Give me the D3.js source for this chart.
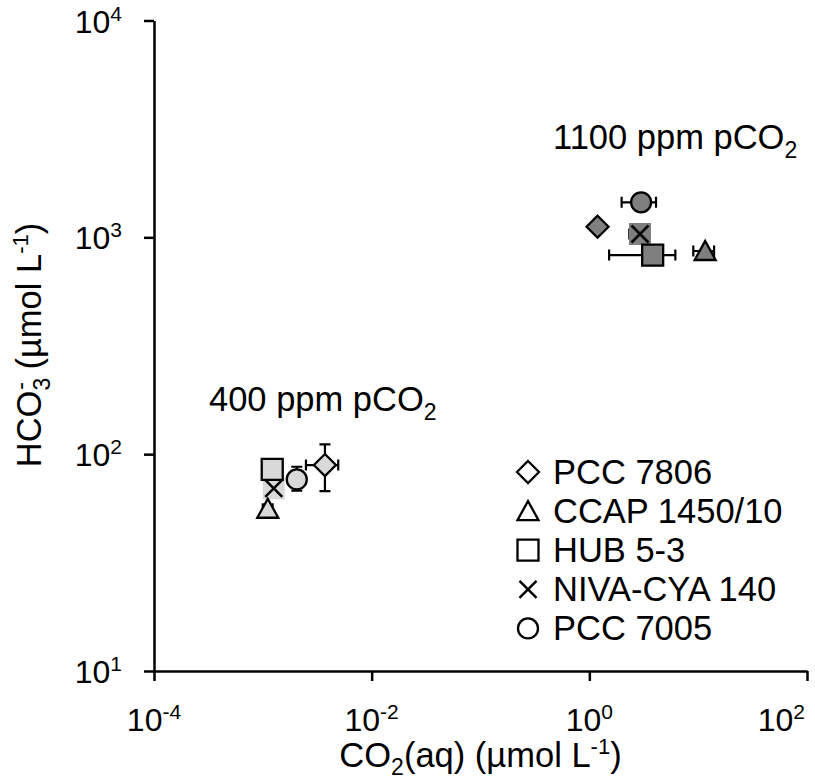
<!DOCTYPE html>
<html>
<head>
<meta charset="utf-8">
<script src="https://cdn.jsdelivr.net/npm/d3@7"></script>
<style>
  body { margin: 0; background: #fff; }
  text { font-family: "Liberation Sans", Arial, sans-serif; fill: #000; }
</style>
</head>
<body>
<div id="chart"></div>
<script>
// strains and marker shapes (legend order)
const strains = ["PCC 7806", "CCAP 1450/10", "HUB 5-3", "NIVA-CYA 140", "PCC 7005"];
const shapes = ["diamond", "triangle", "square", "x", "circle"];

// 400 ppm pCO2
const co2_400 = [3.72e-3, 1.11e-3, 1.22e-3, 1.26e-3, 2.05e-3];
const hco3_400 = [89.1, 56, 85.1, 69.5, 76.5];
const co2Lo_400 = [2.49e-3, 1.0e-3, null, null, null];
const co2Hi_400 = [4.93e-3, 1.23e-3, null, null, null];
const hco3Lo_400 = [67.6, null, null, null, 67.8];
const hco3Hi_400 = [110.9, null, null, null, 87.5];

// 1100 ppm pCO2
const co2_1100 = [1.19, 11.6, 3.82, 2.92, 2.99];
const hco3_1100 = [1119, 865, 828, 1036, 1450];
const co2Lo_1100 = [null, 9.02, 1.52, 2.33, 1.98];
const co2Hi_1100 = [null, 14.0, 6.17, 3.55, 4.10];
const hco3Lo_1100 = [null, null, null, null, null];
const hco3Hi_1100 = [null, null, null, null, null];

const xTickExp = [-4, -2, 0, 2];
const yTickExp = [1, 2, 3, 4];

const width = 815, height = 782;
const margin = { top: 20.5, right: 8, bottom: 111, left: 154 };

const svg = d3.select("#chart").append("svg")
  .attr("width", width)
  .attr("height", height);

const x = d3.scaleLog()
  .domain([1e-4, 1e2])
  .range([margin.left, width - margin.right]);

const y = d3.scaleLog()
  .domain([10, 1e4])
  .range([height - margin.bottom, margin.top]);

// axes
svg.append("g")
  .attr("transform", `translate(0,${height - margin.bottom})`)
  .call(d3.axisBottom(x).tickValues(xTickExp.map(e => Math.pow(10, e))).tickSize(10).tickSizeOuter(0).tickFormat(""));
svg.append("g")
  .attr("transform", `translate(${margin.left},0)`)
  .call(d3.axisLeft(y).tickValues(yTickExp.map(e => Math.pow(10, e))).tickSize(10).tickSizeOuter(0).tickFormat(""));
svg.selectAll(".domain").attr("stroke", "#000").attr("stroke-width", 2.5);
svg.selectAll(".tick line").attr("stroke", "#000").attr("stroke-width", 2.5);

const tickFs = 32, supFs = 21;
xTickExp.forEach((e, i) => {
  const last = i === xTickExp.length - 1;
  const t = svg.append("text")
    .attr("x", last ? width - 10 : x(Math.pow(10, e)))
    .attr("y", height - margin.bottom + 60)
    .attr("text-anchor", last ? "end" : "middle")
    .style("font-size", tickFs + "px");
  t.append("tspan").text("10");
  t.append("tspan").attr("dy", -12).style("font-size", supFs + "px").text(e);
});
yTickExp.forEach(e => {
  const t = svg.append("text")
    .attr("x", 122)
    .attr("y", y(Math.pow(10, e)) + 12)
    .attr("text-anchor", "end")
    .style("font-size", tickFs + "px");
  t.append("tspan").text("10");
  t.append("tspan").attr("dy", -12).style("font-size", supFs + "px").text(e);
});

// axis titles
const titleFs = 34.5;
const xt = svg.append("text")
  .attr("x", (margin.left + width - margin.right) / 2)
  .attr("y", 767)
  .attr("text-anchor", "middle")
  .style("font-size", titleFs + "px");
xt.append("tspan").text("CO");
xt.append("tspan").attr("dy", 8).style("font-size", "23px").text("2");
xt.append("tspan").attr("dy", -8).text("(aq) (µmol L");
xt.append("tspan").attr("dy", -13).style("font-size", "22px").text("-1");
xt.append("tspan").attr("dy", 13).text(")");

const yt = svg.append("text")
  .attr("transform", "translate(41,345) rotate(-90)")
  .attr("text-anchor", "middle")
  .style("font-size", titleFs + "px");
yt.append("tspan").text("HCO");
yt.append("tspan").attr("dy", 9).style("font-size", "23px").text("3");
yt.append("tspan").attr("dy", -22).attr("dx", -12).style("font-size", "23px").text("-");
yt.append("tspan").attr("dy", 13).attr("dx", 3).text(" (µmol L");
yt.append("tspan").attr("dy", -13).style("font-size", "22px").text("-1");
yt.append("tspan").attr("dy", 13).text(")");

// cluster annotations
function annot(px, py, label) {
  const t = svg.append("text").attr("x", px).attr("y", py).style("font-size", titleFs + "px");
  t.append("tspan").text(label + " ppm pCO");
  t.append("tspan").attr("dy", 9).style("font-size", "23px").text("2");
}
annot(553, 149, "1100");
annot(209, 411, "400");

// markers
const half = 11;
function shapePath(s) {
  if (s === "diamond") return `M0,${-half}L${half},0L0,${half}L${-half},0Z`;
  if (s === "triangle") return `M0,${-half + 1}L${half - 0.5},${half - 2}L${-half + 0.5},${half - 2}Z`;
  if (s === "square") return `M${-half + 0.5},${-half + 0.5}H${half - 0.5}V${half - 0.5}H${-half + 0.5}Z`;
  if (s === "circle") return d3.symbol(d3.symbolCircle, Math.PI * 100)();
  return "";
}

function drawMarker(g, s, fill) {
  if (s === "x") {
    g.append("rect").attr("x", -11).attr("y", -11).attr("width", 22).attr("height", 22).attr("fill", fill);
    g.append("path").attr("d", "M-8.5,-8.5L8.5,8.5M-8.5,8.5L8.5,-8.5")
      .attr("stroke", "#000").attr("stroke-width", 2.5).attr("fill", "none");
  } else {
    g.append("path").attr("d", shapePath(s))
      .attr("fill", fill).attr("stroke", "#000").attr("stroke-width", 2.3)
      .attr("stroke-linejoin", "miter");
  }
}

const groups = [
  { co2: co2_400, hco3: hco3_400, xlo: co2Lo_400, xhi: co2Hi_400, ylo: hco3Lo_400, yhi: hco3Hi_400, fill: "#d9d9d9" },
  { co2: co2_1100, hco3: hco3_1100, xlo: co2Lo_1100, xhi: co2Hi_1100, ylo: hco3Lo_1100, yhi: hco3Hi_1100, fill: "#7f7f7f" }
];

// draw order: x, square, circle, triangle, diamond
const order = [3, 2, 4, 1, 0];
const cap = 5.5;

groups.forEach(gr => {
  const eb = svg.append("g").attr("stroke", "#000").attr("stroke-width", 2.2).attr("fill", "none");
  gr.co2.forEach((v, i) => {
    const cx = x(v), cy = y(gr.hco3[i]);
    if (gr.xlo[i] != null) {
      const a = x(gr.xlo[i]), b = x(gr.xhi[i]);
      eb.append("path").attr("d", `M${a},${cy}H${b}M${a},${cy - cap}V${cy + cap}M${b},${cy - cap}V${cy + cap}`);
    }
    if (gr.ylo[i] != null) {
      const a = y(gr.ylo[i]), b = y(gr.yhi[i]);
      eb.append("path").attr("d", `M${cx},${a}V${b}M${cx - cap},${a}H${cx + cap}M${cx - cap},${b}H${cx + cap}`);
    }
  });
  order.forEach(i => {
    const g = svg.append("g").attr("transform", `translate(${x(gr.co2[i])},${y(gr.hco3[i])})`);
    drawMarker(g, shapes[i], gr.fill);
  });
});

// legend
const legend = svg.append("g").attr("transform", "translate(528,472)");
strains.forEach((name, i) => {
  const row = legend.append("g").attr("transform", `translate(0,${i * 39.1})`);
  drawMarker(row, shapes[i], "#fff");
  row.append("text")
    .attr("x", 25)
    .attr("y", 12)
    .style("font-size", titleFs + "px")
    .text(name);
});
</script>
</body>
</html>
